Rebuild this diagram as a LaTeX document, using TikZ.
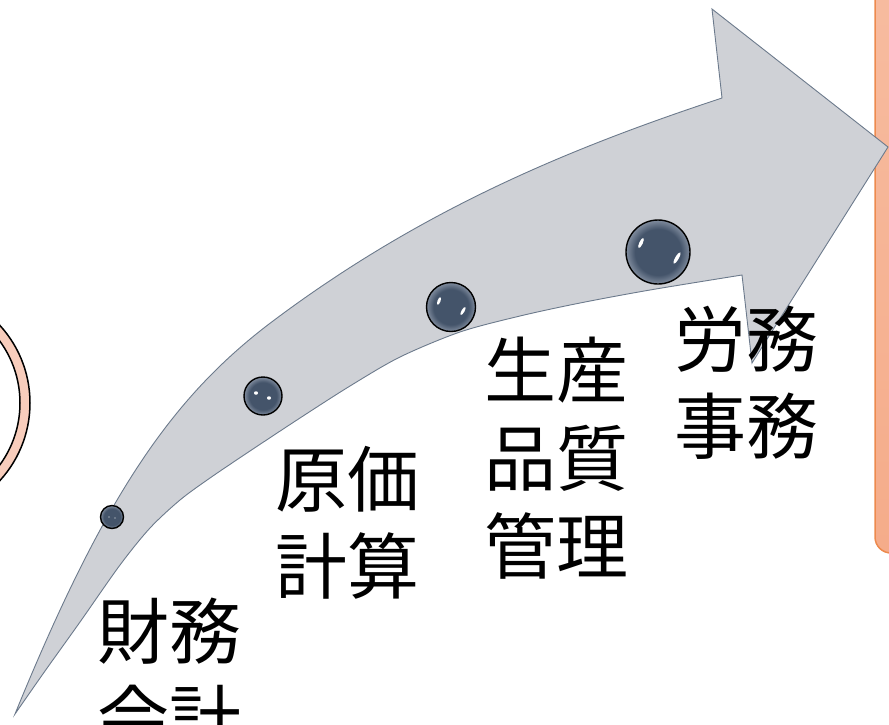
\documentclass[tikz,border=0pt]{standalone}
\usepackage{fontspec}
\newfontfamily\cjk{Noto Sans CJK JP}
\usetikzlibrary{shapes.geometric}
\definecolor{arrowfill}{RGB}{207,209,214}
\definecolor{arrowline}{RGB}{108,122,140}
\definecolor{sphA}{RGB}{68,84,106}
\definecolor{sphB}{RGB}{128,140,158}
\definecolor{recttop}{RGB}{247,188,160}
\definecolor{rectbot}{RGB}{245,172,138}
\definecolor{rectline}{RGB}{237,138,78}
\definecolor{ringfill}{RGB}{248,205,188}
\pgfdeclareradialshading{sphshade}{\pgfpoint{0bp}{0bp}}{color(0bp)=(sphA); color(18bp)=(sphA); color(25bp)=(sphB); color(50bp)=(sphB)}
\tikzset{
  lbl/.style={font=\cjk\fontsize{72}{86}\selectfont, anchor=base west, inner sep=0pt, text=black},
  sphere/.style={circle, draw=black, line width=1.4pt, shading=sphshade, inner sep=0pt},
  hl/.style={ellipse, fill=white, draw=none, inner sep=0pt},
  ring/.style={draw=black, line width=1.5pt}
}
\begin{document}
\begin{tikzpicture}[x=1pt,y=-1pt]
\useasboundingbox (0,0) rectangle (889,724);
% left ring (partly off canvas)
\draw[ring, fill=ringfill] (-85,403) circle (115);
\draw[ring, fill=white] (-85,403) circle (105);
% right box (partly off canvas)
\draw[rectline, line width=1.5pt, top color=recttop, bottom color=rectbot, rounded corners=16pt] (875,-30) rectangle (930,553);
% curved arrow
\coordinate (tail) at (15,714);
\coordinate (mid) at (273,321);
\coordinate (ntop) at (722,98);
\coordinate (htop) at (712,9);
\coordinate (tip) at (888,147);
\coordinate (hbot) at (752,363);
\coordinate (nbot) at (742,275);
\draw[arrowline, line width=0.9pt, fill=arrowfill, line join=miter]
  (tail) .. controls (105,493.5) and (173,396) .. (mid)
  .. controls (423,208.5) and (572,147.5) .. (ntop)
  -- (htop) -- (tip) -- (hbot) -- (nbot)
  -- plot[smooth, tension=0.5] coordinates {(742,275) (650,290) (580,303) (520,316) (460,332) (400,357) (350,386) (300,418) (250,451) (210,478) (180,500) (150,528) (120,565) (80,622) (45,671) (15,714)}
  -- cycle;
% spheres
\node[sphere, minimum size=23pt] (s1) at (112,517) {};
\node[sphere, minimum size=38pt] (s2) at (263,396) {};
\node[sphere, minimum size=49pt] (s3) at (451,307) {};
\node[sphere, minimum size=64pt] (s4) at (658,252) {};
% highlights
\node[hl, minimum width=2pt, minimum height=1.2pt, opacity=0.6] (h1a) at ([shift={(-3,0)}]s1.center) {};
\node[hl, minimum width=2pt, minimum height=1.2pt, opacity=0.6] (h1b) at ([shift={(3,1)}]s1.center) {};
\node[hl, minimum width=4pt, minimum height=3.5pt] (h2a) at ([shift={(-7,-3)}]s2.center) {};
\node[hl, minimum width=4pt, minimum height=3.5pt] (h2b) at ([shift={(6,2)}]s2.center) {};
\node[hl, minimum width=8pt, minimum height=3pt, rotate=70] (h3a) at ([shift={(-12,-6)}]s3.center) {};
\node[hl, minimum width=9pt, minimum height=3pt, rotate=60] (h3b) at ([shift={(12,4)}]s3.center) {};
\node[hl, minimum width=11pt, minimum height=3.5pt, rotate=65] (h4a) at ([shift={(-17,-9)}]s4.center) {};
\node[hl, minimum width=13pt, minimum height=3.5pt, rotate=60] (h4b) at ([shift={(19,6)}]s4.center) {};
% labels
\node[lbl] (t1a) at (97,658) {財務};
\node[lbl] (t1b) at (97,745) {会計};
\node[lbl] (t2a) at (275,506) {原価};
\node[lbl] (t2b) at (275,593) {計算};
\node[lbl] (t3a) at (484,397) {生産};
\node[lbl] (t3b) at (484,485) {品質};
\node[lbl] (t3c) at (484,573) {管理};
\node[lbl] (t4a) at (674,366) {労務};
\node[lbl] (t4b) at (674,453) {事務};
\end{tikzpicture}
\end{document}
